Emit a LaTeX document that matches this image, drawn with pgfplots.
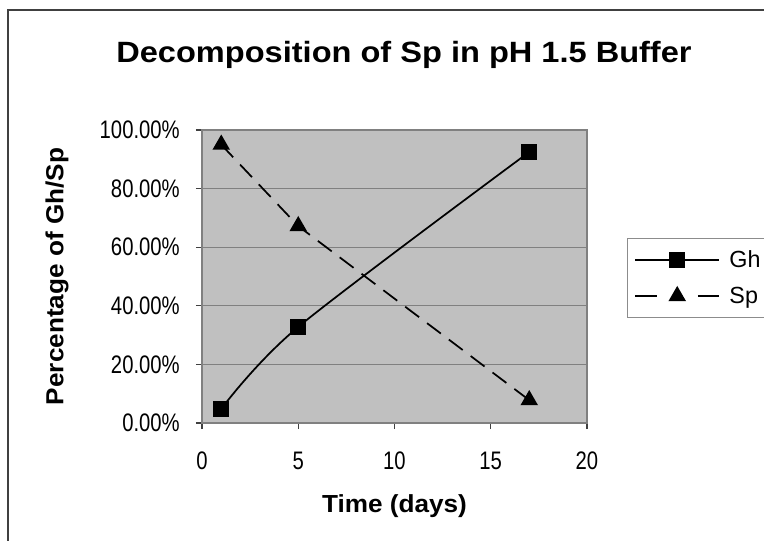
\documentclass[border=0pt]{standalone}
\usepackage{pgfplots}
\pgfplotsset{compat=1.18}
\usepackage{fontspec}
\setmainfont{Liberation Sans}
\newfontfamily\titlefont[FakeStretch=1.11]{Liberation Sans Bold}
\newfontfamily\labelfont[FakeStretch=1.06]{Liberation Sans Bold}
\newfontfamily\tickfont[FakeStretch=0.8]{Liberation Sans}
\definecolor{plotgray}{HTML}{C0C0C0}
\definecolor{gridgray}{HTML}{808080}
\begin{document}
\begin{tikzpicture}
\useasboundingbox (0,0) rectangle (573pt,-405.75pt);
\fill[white] (0,0) rectangle (573pt,-405.75pt);
\draw[color=black!75, line width=1pt] (600pt,-7.5pt) -- (6pt,-7.5pt) -- (6pt,-430pt);
\node[anchor=base, font=\titlefont\fontsize{22}{26}\selectfont] at (303pt,-47pt) {Decomposition of Sp in pH 1.5 Buffer};
\begin{axis}[
  at={(151.5pt,-317.25pt)}, anchor=south west,
  scale only axis, width=288.75pt, height=219.75pt,
  xmin=0, xmax=20, ymin=0, ymax=100,
  xtick={0,5,10,15,20}, ytick={0,20,40,60,80,100},
  yticklabels={0.00\%,20.00\%,40.00\%,60.00\%,80.00\%,100.00\%},
  /pgf/number format/assume math mode=true,
  tick label style={font=\tickfont\fontsize{19}{22}\selectfont},
  xticklabel style={anchor=base, yshift=-30pt},
  yticklabel style={anchor=east, inner xsep=0pt, xshift=-12pt},
  tick align=outside, xtick pos=bottom, ytick pos=left,
  major tick length=4.5pt,
  tick style={color=black!75, line width=0.8pt},
  axis background/.style={fill=plotgray},
  axis line style={color=gridgray, line width=1pt},
  ymajorgrids, grid style={color=gridgray, line width=1pt},
  xlabel={Time (days)}, ylabel={Percentage of Gh/Sp},
  label style={font=\labelfont\fontsize{18.5}{22}\selectfont},
  xlabel style={at={(axis description cs:0.5,0)}, anchor=base, yshift=-66.75pt},
  ylabel style={at={(axis description cs:-0.3766,0.5)}, anchor=center, rotate=0},
  legend style={at={(1.104,0.6314)}, anchor=north west, draw=black!45, line width=1pt,
    font=\fontsize{17.5}{20}\selectfont, row sep=9pt, inner xsep=5pt, inner ysep=7pt,
    text width=60pt, cells={anchor=west},
    /tikz/every odd column/.append style={column sep=5pt}},
  legend image code/.code={
    \draw[#1, mark=none] (0pt,0pt) -- (63pt,0pt);
    \draw[#1, solid] plot coordinates {(31.5pt,0pt)};
  },
  clip=false,
]
\addplot[black, line width=1.3pt, smooth, tension=0.5, mark=square*, mark size=5.3pt] coordinates {(1,4.8) (5,32.8) (17,92.5)};
\addlegendentry{Gh}
\addplot[black, line width=1.3pt, dash pattern=on 13pt off 7.5pt, mark=triangle*, mark size=6.3pt, mark options={solid},
  legend image code/.code={
    \draw[black, line width=1.3pt, solid] (0pt,0pt) -- (16pt,0pt);
    \draw[black, line width=1.3pt, solid] (47pt,0pt) -- (63pt,0pt);
    \draw[black, solid] plot[mark=triangle*, mark size=6.3pt] coordinates {(31.5pt,0pt)};
  }] coordinates {(1,95) (5,67.2) (17,7.8)};
\addlegendentry{Sp}
\end{axis}
\end{tikzpicture}
\end{document}
